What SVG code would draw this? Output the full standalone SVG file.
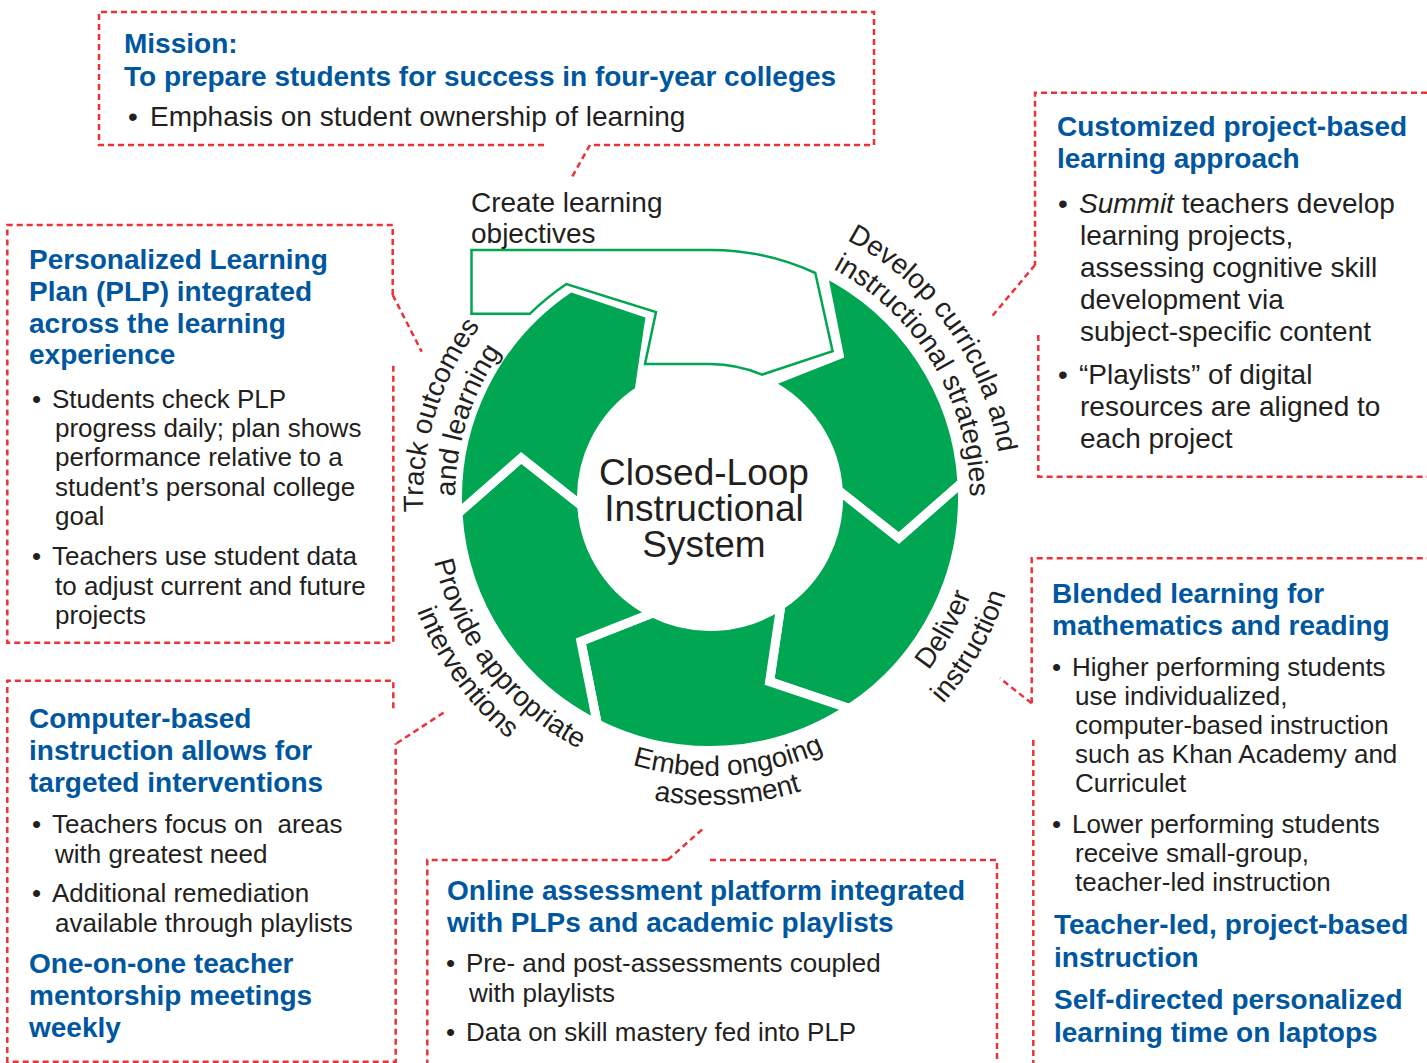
<svg xmlns="http://www.w3.org/2000/svg" width="1427" height="1063" viewBox="0 0 1427 1063">
<style>
.h{font-family:"Liberation Sans",Arial,sans-serif;font-weight:bold;font-size:28px;fill:#0057a0}
.t28{font-family:"Liberation Sans",Arial,sans-serif;font-size:28px;fill:#231f20}
.t26{font-family:"Liberation Sans",Arial,sans-serif;font-size:26px;fill:#231f20}
.lbl{font-family:"Liberation Sans",Arial,sans-serif;font-size:28px;fill:#231f20}
.ctr{font-family:"Liberation Sans",Arial,sans-serif;font-size:37px;fill:#231f20;text-anchor:middle}
.box{fill:none;stroke:#ed3237;stroke-width:2.5;stroke-dasharray:6 4}
.seg{fill:#00a651;stroke:#ffffff;stroke-width:9;stroke-linejoin:miter}
.lead{fill:none;stroke:#ed3237;stroke-width:2.5;stroke-dasharray:6 4}
</style>
<defs>
<path id="pA" d="M732.9,206.9 A292 292 0 0 1 992.7,571.1"/>
<path id="pB" d="M750.7,241.2 A260 260 0 0 1 955.8,582.6"/>
<path id="pC" d="M469.3,654.3 A287 287 0 0 1 597.9,233.8"/>
<path id="pD" d="M494.5,634.3 A255 255 0 0 1 613.2,262.1"/>
<path id="pE" d="M433.5,437.7 A283 283 0 0 0 698.6,780.8"/>
<path id="pF" d="M405.9,419.9 A314 314 0 0 0 685.9,811.1"/>
<path id="pG" d="M510.0,691.1 A278 278 0 0 0 934.9,661.4"/>
<path id="pH" d="M486.9,708.9 A307 307 0 0 0 956.5,681.0"/>
<path id="pI" d="M761.6,771.2 A278 278 0 0 0 970.1,399.7"/>
<path id="pJ" d="M765.6,804.0 A311 311 0 0 0 1001.7,390.1"/>
</defs>
<rect width="1427" height="1063" fill="#ffffff"/>

<g id="cycle">
<path class="seg" d="M822.7,272.0 A252.5 252.5 0 0 1 962.0,482.6 L898.8,538.1 L838.3,490.2 A128.5 128.5 0 0 0 767.3,383.0 L839.1,354.6 Z"/>
<path class="seg" d="M962.0,482.6 A252.5 252.5 0 0 1 849.4,708.6 L769.6,681.6 L780.9,605.2 A128.5 128.5 0 0 0 838.3,490.2 L898.8,538.1 Z"/>
<path class="seg" d="M849.4,708.6 A252.5 252.5 0 0 1 597.3,724.0 L580.9,641.4 L652.7,613.0 A128.5 128.5 0 0 0 780.9,605.2 L769.6,681.6 Z"/>
<path class="seg" d="M597.3,724.0 A252.5 252.5 0 0 1 458.0,513.4 L521.2,457.9 L581.7,505.8 A128.5 128.5 0 0 0 652.7,613.0 L580.9,641.4 Z"/>
<path class="seg" d="M458.0,513.4 A252.5 252.5 0 0 1 570.6,287.4 L650.4,314.4 L639.1,390.8 A128.5 128.5 0 0 0 581.7,505.8 L521.2,457.9 Z"/>
<path d="M471.5,250 H710 A248 248 0 0 1 815.3,273 L832.6,351.2 L762,374.6 A134 134 0 0 0 710,364 H645 L656,312 L566.4,284 A257.6 257.6 0 0 0 530,313.7 H471.5 Z" fill="#ffffff" stroke="#00a651" stroke-width="2.5" stroke-linejoin="miter"/>
</g>

<g id="center-label">
<text class="ctr" x="704" y="485">Closed-Loop</text>
<text class="ctr" x="704" y="521">Instructional</text>
<text class="ctr" x="704" y="557">System</text>
</g>

<g id="ring-labels">
<text class="lbl" x="471" y="212">Create learning</text>
<text class="lbl" x="471" y="243">objectives</text>
<text class="lbl"><textPath href="#pA" startOffset="50%" text-anchor="middle">Develop curricula and</textPath></text>
<text class="lbl"><textPath href="#pB" startOffset="50%" text-anchor="middle">instructional strategies</textPath></text>
<text class="lbl"><textPath href="#pC" startOffset="50%" text-anchor="middle">Track outcomes</textPath></text>
<text class="lbl"><textPath href="#pD" startOffset="50%" text-anchor="middle">and learning</textPath></text>
<text class="lbl"><textPath href="#pE" startOffset="50%" text-anchor="middle">Provide appropriate</textPath></text>
<text class="lbl"><textPath href="#pF" startOffset="50%" text-anchor="middle">interventions</textPath></text>
<text class="lbl"><textPath href="#pG" startOffset="50%" text-anchor="middle">Embed ongoing</textPath></text>
<text class="lbl"><textPath href="#pH" startOffset="50%" text-anchor="middle">assessment</textPath></text>
<text class="lbl"><textPath href="#pI" startOffset="50%" text-anchor="middle">Deliver</textPath></text>
<text class="lbl"><textPath href="#pJ" startOffset="50%" text-anchor="middle">instruction</textPath></text>
</g>

<g id="connectors">
<path class="lead" d="M590,145 L572,177"/>
<path class="lead" d="M1035,265 L991.7,316.7"/>
<path class="lead" d="M392.7,295 L421.7,351.7"/>
<path class="lead" d="M396.7,743.3 L445,711.7"/>
<path class="lead" d="M1031.7,703.3 L1000,678.3"/>
<path class="lead" d="M667.7,860 L702.3,829.3"/>
</g>

<g id="mission">
<path class="box" d="M544,145 H99 V12 H874 V145 H590"/>
<text class="h" x="124" y="53">Mission:</text>
<text class="h" x="124" y="86">To prepare students for success in four-year colleges</text>
<text class="t28" x="128" y="126">•<tspan x="150">Emphasis on student ownership of learning</tspan></text>
</g>

<g id="customized">
<path class="box" d="M1427,92.7 H1035 V265"/>
<path class="box" d="M1038.3,335 V476.7 H1427"/>
<text class="h" x="1057" y="136">Customized project-based</text>
<text class="h" x="1057" y="168">learning approach</text>
<text class="t28" x="1058" y="213">•<tspan x="1079" font-style="italic">Summit</tspan> teachers develop</text>
<text class="t28" x="1080" y="245">learning projects,</text>
<text class="t28" x="1080" y="277">assessing cognitive skill</text>
<text class="t28" x="1080" y="309">development via</text>
<text class="t28" x="1080" y="341">subject-specific content</text>
<text class="t28" x="1058" y="384">•<tspan x="1079">“Playlists” of digital</tspan></text>
<text class="t28" x="1080" y="416">resources are aligned to</text>
<text class="t28" x="1080" y="448">each project</text>
</g>

<g id="plp">
<path class="box" d="M392.7,295 V225 H7.3 V642.7 H393.3 V365"/>
<text class="h" x="29" y="269">Personalized Learning</text>
<text class="h" x="29" y="301">Plan (PLP) integrated</text>
<text class="h" x="29" y="333">across the learning</text>
<text class="h" x="29" y="364">experience</text>
<text class="t26" x="32" y="408">•<tspan x="52">Students check PLP</tspan></text>
<text class="t26" x="55" y="437">progress daily; plan shows</text>
<text class="t26" x="55" y="466">performance relative to a</text>
<text class="t26" x="55" y="496">student’s personal college</text>
<text class="t26" x="55" y="525">goal</text>
<text class="t26" x="32" y="565">•<tspan x="52">Teachers use student data</tspan></text>
<text class="t26" x="55" y="595">to adjust current and future</text>
<text class="t26" x="55" y="624">projects</text>
</g>

<g id="computer-based">
<path class="box" d="M393.3,708.3 V680.7 H7.3 V1061.7 H395.7 V743.3"/>
<text class="h" x="29" y="728">Computer-based</text>
<text class="h" x="29" y="760">instruction allows for</text>
<text class="h" x="29" y="792">targeted interventions</text>
<text class="t26" x="32" y="833" style="white-space:pre">•<tspan x="52">Teachers focus on  areas</tspan></text>
<text class="t26" x="55" y="863">with greatest need</text>
<text class="t26" x="32" y="902">•<tspan x="52">Additional remediation</tspan></text>
<text class="t26" x="55" y="932">available through playlists</text>
<text class="h" x="29" y="973">One-on-one teacher</text>
<text class="h" x="29" y="1005">mentorship meetings</text>
<text class="h" x="29" y="1037">weekly</text>
</g>

<g id="blended">
<path class="box" d="M1031.7,703.3 V558.3 H1427"/>
<path class="box" d="M1033.3,740 V1063"/>
<text class="h" x="1052" y="603">Blended learning for</text>
<text class="h" x="1052" y="635">mathematics and reading</text>
<text class="t26" x="1052" y="676">•<tspan x="1072">Higher performing students</tspan></text>
<text class="t26" x="1075" y="705">use individualized,</text>
<text class="t26" x="1075" y="734">computer-based instruction</text>
<text class="t26" x="1075" y="763">such as Khan Academy and</text>
<text class="t26" x="1075" y="792">Curriculet</text>
<text class="t26" x="1052" y="833">•<tspan x="1072">Lower performing students</tspan></text>
<text class="t26" x="1075" y="862">receive small-group,</text>
<text class="t26" x="1075" y="891">teacher-led instruction</text>
<text class="h" x="1054" y="934">Teacher-led, project-based</text>
<text class="h" x="1054" y="967">instruction</text>
<text class="h" x="1054" y="1009">Self-directed personalized</text>
<text class="h" x="1054" y="1042">learning time on laptops</text>
</g>

<g id="online">
<path class="box" d="M667.7,860 H427.3 V1063"/>
<path class="box" d="M710,860 H997 V1063"/>
<text class="h" x="447" y="900">Online assessment platform integrated</text>
<text class="h" x="447" y="932">with PLPs and academic playlists</text>
<text class="t26" x="446" y="972">•<tspan x="466">Pre- and post-assessments coupled</tspan></text>
<text class="t26" x="469" y="1002">with playlists</text>
<text class="t26" x="446" y="1041">•<tspan x="466">Data on skill mastery fed into PLP</tspan></text>
</g>
</svg>
